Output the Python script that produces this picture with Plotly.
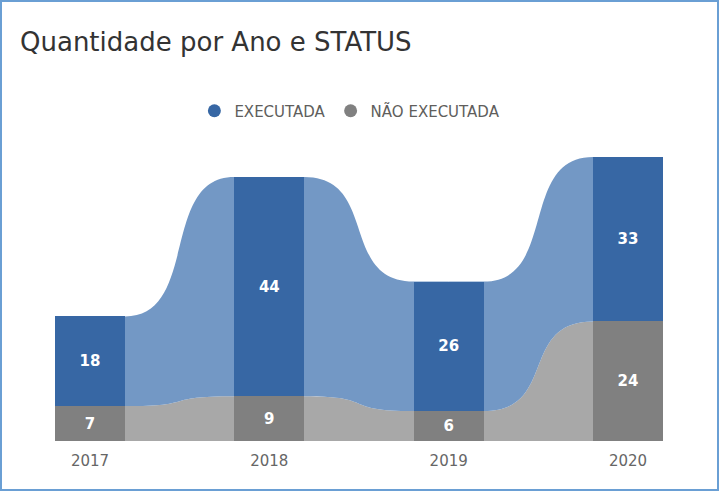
import plotly.graph_objects as go

anos = ['2017', '2018', '2019', '2020']
executada = [18, 44, 26, 33]
nao_executada = [7, 9, 6, 24]

cor_exec = '#3767A4'
cor_exec_fita = '#7398C5'
cor_nao = '#808080'
cor_nao_fita = '#A8A8A8'

W, H = 719, 491
ml, mr, mt, mb = 55, 56, 157, 50
largura = 0.39
k = 0.68  # curvatura das fitas
fonte = 'DejaVu Sans'

x = list(range(len(anos)))

fig = go.Figure()

# legenda com círculos
fig.add_trace(go.Scatter(x=[None], y=[None], mode='markers', name='EXECUTADA',
                         marker=dict(color=cor_exec, size=13, symbol='circle')))
fig.add_trace(go.Scatter(x=[None], y=[None], mode='markers', name='NÃO EXECUTADA',
                         marker=dict(color=cor_nao, size=13, symbol='circle')))

fig.add_trace(go.Bar(x=x, y=nao_executada, width=largura, name='NÃO EXECUTADA',
                     marker=dict(color=cor_nao, line=dict(width=0)),
                     text=nao_executada, textposition='inside', insidetextanchor='middle',
                     textfont=dict(color='white', size=15, family=fonte),
                     texttemplate='<b>%{text}</b>', showlegend=False, hoverinfo='skip'))
fig.add_trace(go.Bar(x=x, y=executada, width=largura, name='EXECUTADA',
                     marker=dict(color=cor_exec, line=dict(width=0)),
                     text=executada, textposition='inside', insidetextanchor='middle',
                     textfont=dict(color='white', size=15, family=fonte),
                     texttemplate='<b>%{text}</b>', showlegend=False, hoverinfo='skip'))


def fita(i, baixo, cima, cor):
    x0 = i + largura / 2
    x1 = i + 1 - largura / 2
    dx = x1 - x0
    p = (f'M {i},{cima[i]} L {x0},{cima[i]} '
         f'C {x0 + k * dx},{cima[i]} {x1 - k * dx},{cima[i + 1]} {x1},{cima[i + 1]} '
         f'L {i + 1},{cima[i + 1]} L {i + 1},{baixo[i + 1]} L {x1},{baixo[i + 1]} '
         f'C {x1 - k * dx},{baixo[i + 1]} {x0 + k * dx},{baixo[i]} {x0},{baixo[i]} '
         f'L {i},{baixo[i]} Z')
    return dict(type='path', path=p, xref='x', yref='y', layer='below',
                fillcolor=cor, line=dict(width=0))


zeros = [0] * len(anos)
topo = [a + b for a, b in zip(nao_executada, executada)]
shapes = []
for i in range(len(anos) - 1):
    shapes.append(fita(i, zeros, nao_executada, cor_nao_fita))
    shapes.append(fita(i, nao_executada, topo, cor_exec_fita))

# moldura
pw = W - ml - mr
ph = H - mt - mb
shapes.append(dict(type='rect', xref='paper', yref='paper',
                   x0=-ml / pw + 1 / pw, x1=1 + mr / pw - 1 / pw,
                   y0=-mb / ph + 1 / ph, y1=1 + mt / ph - 1 / ph,
                   line=dict(color='#6A9FD4', width=2), fillcolor='rgba(0,0,0,0)'))

fig.update_layout(
    width=W, height=H,
    margin=dict(l=ml, r=mr, t=mt, b=mb),
    barmode='stack',
    paper_bgcolor='white', plot_bgcolor='white',
    title=dict(text='Quantidade por Ano e STATUS', x=20 / W, xanchor='left',
               y=1 - 42 / H, yanchor='middle',
               font=dict(family=fonte, size=26, color='#333333')),
    legend=dict(orientation='h', x=0.485, xanchor='center', y=1 + 46 / ph, yanchor='middle',
                font=dict(family=fonte, size=15, color='#605E5C'),
                traceorder='normal', itemwidth=30, tracegroupgap=0),
    shapes=shapes,
    xaxis=dict(range=[-0.195, 3.195], tickvals=x, ticktext=anos, showgrid=False,
               zeroline=False, showline=False, ticks='outside', ticklen=6,
               tickcolor='rgba(0,0,0,0)',
               tickfont=dict(family=fonte, size=15, color='#666666')),
    yaxis=dict(range=[0, 57], visible=False, showgrid=False, zeroline=False),
    showlegend=True,
)

fig.write_html('out.html', config={'displayModeBar': False},
               post_script="document.body.style.margin='0';")
